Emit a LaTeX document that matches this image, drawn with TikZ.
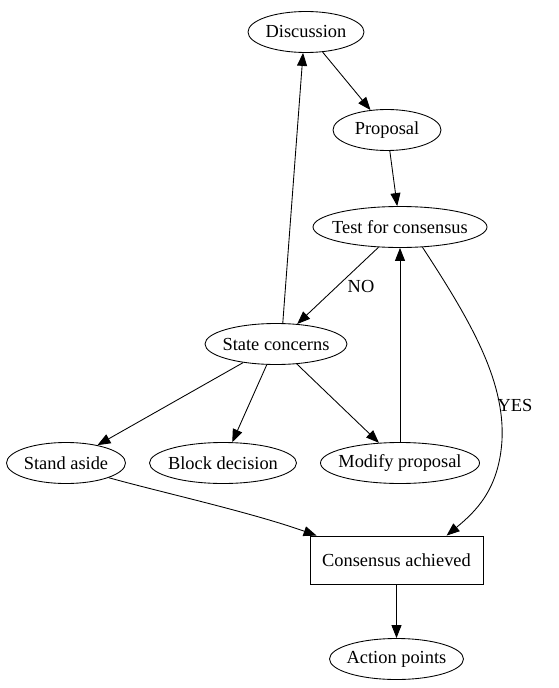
\documentclass[tikz,border=0pt]{standalone}
\usepackage{fontspec}
\setmainfont{Liberation Serif}
\usetikzlibrary{shapes.geometric,arrows.meta}
\newcommand{\ztxt}[1]{\makebox[0pt]{#1}}
\tikzset{
  gv/.style={ellipse, draw, line width=0.65pt, inner sep=0pt, minimum height=30.75pt},
  gvbox/.style={rectangle, draw, line width=0.65pt, inner sep=0pt, minimum width=129.75pt, minimum height=36pt},
  lbl/.style={inner sep=0pt},
  edge/.style={draw, line width=0.65pt, -{Triangle[length=9.75pt,width=7.5pt]}},
}
\begin{document}
\begin{tikzpicture}[x=0.75pt,y=-0.75pt,font=\fontsize{13.8}{16}\selectfont]
\useasboundingbox (0,0) rectangle (559,688);
\node[gv, minimum width=87pt] (disc) at (306,32) {\ztxt{Discussion}};
\node[gv, minimum width=81pt] (prop) at (387,130) {\ztxt{Proposal}};
\node[gv, minimum width=130.5pt] (test) at (400,227) {\ztxt{Test for consensus}};
\node[gv, minimum width=106.5pt] (state) at (276,344) {\ztxt{State concerns}};
\node[gv, minimum width=89.25pt] (stand) at (66,463) {\ztxt{Stand aside}};
\node[gv, minimum width=110.25pt] (block) at (223,463) {\ztxt{Block decision}};
\node[gv, minimum width=119.25pt] (modify) at (400,463) {\ztxt{Modify proposal}};
\node[gvbox] (cons) at (396.5,560) {\ztxt{Consensus achieved}};
\node[gv, minimum width=100.5pt] (action) at (396.5,659) {\ztxt{Action points}};
\node[lbl] (no) at (361,286) {NO};
\node[lbl] (yes) at (515,405) {YES};

\draw[edge] (disc) -- (prop);
\draw[edge] (prop) -- (test);
\draw[edge] (test) -- (state);
\draw[edge] (state.72) -- (disc.-98);
\draw[edge] (state) -- (stand);
\draw[edge] (state) -- (block);
\draw[edge] (state) -- (modify);
\draw[edge] (modify) -- (test);
\draw[edge] (test.-42) .. controls (470,320) and (505,380) .. (502,440)
  .. controls (499,490) and (475,512) .. (cons.26.3);
\draw[edge] (stand.-19) .. controls (160,492) and (250,512) .. (cons.163);
\draw[edge] (cons) -- (action);
\end{tikzpicture}
\end{document}
